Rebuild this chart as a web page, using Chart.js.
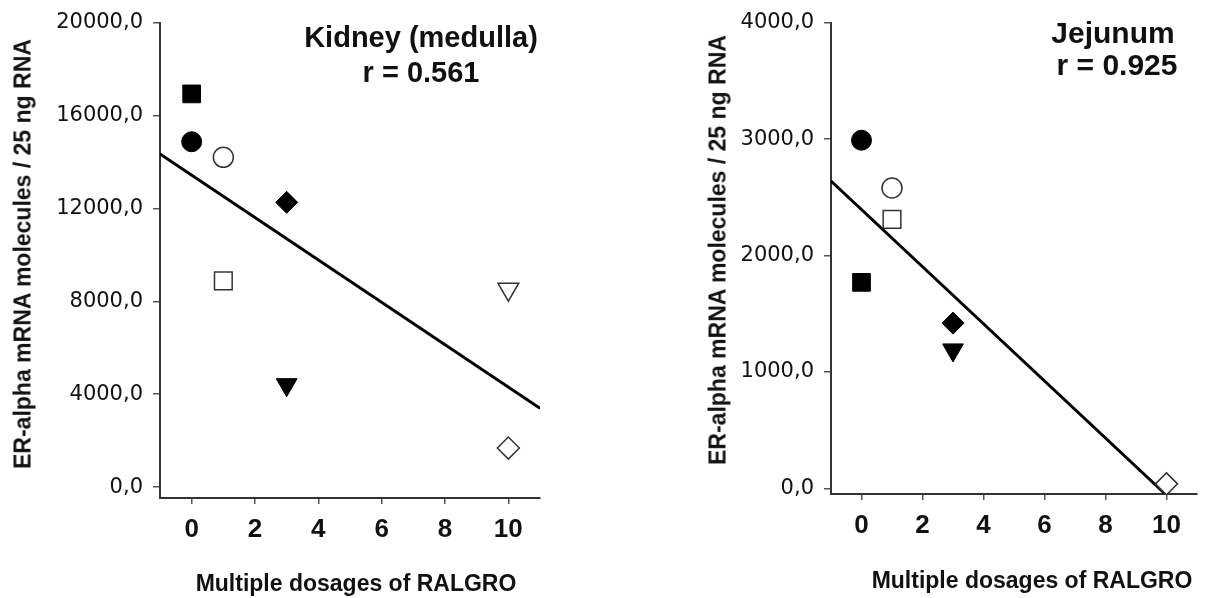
<!DOCTYPE html>
<html>
<head>
<meta charset="utf-8">
<script src="https://cdn.jsdelivr.net/npm/chart.js@4.4.0/dist/chart.umd.min.js"></script>
<style>
    html, body { margin: 0; padding: 0; background: #fff; }
    #stage { position: relative; width: 1211px; height: 598px; overflow: hidden;
             font-family: "Liberation Sans", Arial, sans-serif; color: #111; }
    .panel { position: absolute; top: 0; }
    .label { position: absolute; transform: translate(-50%, -50%); white-space: nowrap;
             font-weight: bold; line-height: 1; }
    .ylab { transform: translate(-50%, -50%) rotate(-90deg); font-size: 23px; }
    .xlab { font-size: 23px; }
</style>
</head>
<body>
<div id="stage">
    <canvas id="kidneyChart" class="panel" style="left:0" width="560" height="598"></canvas>
    <canvas id="jejunumChart" class="panel" style="left:690px" width="521" height="598"></canvas>

    <div class="label ylab" style="left:23px; top:254px">ER-alpha mRNA molecules / 25 ng RNA</div>
    <div class="label xlab" style="left:356px; top:583px">Multiple dosages of RALGRO</div>
    <div class="label" style="left:421px; top:37px; font-size:29px">Kidney (medulla)</div>
    <div class="label" style="left:421px; top:72px; font-size:29px">r = 0.561</div>

    <div class="label ylab" style="left:718px; top:250px">ER-alpha mRNA molecules / 25 ng RNA</div>
    <div class="label xlab" style="left:1032px; top:580px">Multiple dosages of RALGRO</div>
    <div class="label" style="left:1113px; top:33px; font-size:30px">Jejunum</div>
    <div class="label" style="left:1117px; top:65px; font-size:30px">r = 0.925</div>
</div>

<script>
// ─── Data ─────────────────────────────────────────────────────────────────────

const doseTicks = [0, 2, 4, 6, 8, 10];

const kidneyDose = [0, 0, 1, 3, 1, 10, 3, 10];
const kidneyMrna = [16930, 14870, 14200, 12260, 8880, 8520, 4410, 1680];
const kidneyMarkers = ['filledSquare', 'filledCircle', 'openCircle', 'filledDiamond',
                       'openSquare', 'openTriangle', 'filledTriangle', 'openDiamond'];
const kidneyTrendDose = [-1, 11];
const kidneyTrendMrna = [14340, 3390];
const kidneyYTicks = [0, 4000, 8000, 12000, 16000, 20000];

const jejunumDose = [0, 1, 1, 0, 3, 3, 10];
const jejunumMrna = [2990, 2580, 2310, 1770, 1420, 1190, 40];
const jejunumMarkers = ['filledCircle', 'openCircle', 'openSquare', 'filledSquare',
                        'filledDiamond', 'filledTriangle', 'openDiamond'];
const jejunumTrendDose = [-1, 9.96];
const jejunumTrendMrna = [2640, -47];
const jejunumYTicks = [0, 1000, 2000, 3000, 4000];

// ─── Styles ───────────────────────────────────────────────────────────────────

const ink = '#111';
const axisColor = '#333';

const markerStyle = {
    filledSquare:   { shape: 'rect',     radius: 12.5, fill: '#000', stroke: '#000', width: 1,   rot: 0 },
    openSquare:     { shape: 'rect',     radius: 12.5, fill: '#fff', stroke: '#333', width: 1.5, rot: 0 },
    filledCircle:   { shape: 'circle',   radius: 10,   fill: '#000', stroke: '#000', width: 1,   rot: 0 },
    openCircle:     { shape: 'circle',   radius: 10,   fill: '#fff', stroke: '#333', width: 1.5, rot: 0 },
    filledDiamond:  { shape: 'rectRot',  radius: 11,   fill: '#000', stroke: '#000', width: 1,   rot: 0 },
    openDiamond:    { shape: 'rectRot',  radius: 11,   fill: '#fff', stroke: '#333', width: 1.5, rot: 0 },
    filledTriangle: { shape: 'triangle', radius: 12,   fill: '#000', stroke: '#000', width: 1,   rot: 180 },
    openTriangle:   { shape: 'triangle', radius: 12,   fill: '#fff', stroke: '#333', width: 1.5, rot: 180 },
};

const yTickFont = { family: 'DejaVu Sans', size: 21 };
const xTickFont = { family: 'Liberation Sans', size: 26, weight: 'bold' };

// ─── Panel builder ────────────────────────────────────────────────────────────

function buildPanel(id, dose, mrna, markers, trendDose, trendMrna, yMin, yMax, yTicks, box) {
    const styles = markers.map(m => markerStyle[m]);

    return new Chart(document.getElementById(id), {
        type: 'scatter',
        data: {
            datasets: [
                {
                    data: dose.map((x, i) => ({ x, y: mrna[i] })),
                    pointStyle: styles.map(s => s.shape),
                    pointRadius: styles.map(s => s.radius),
                    pointHoverRadius: styles.map(s => s.radius),
                    pointBackgroundColor: styles.map(s => s.fill),
                    pointBorderColor: styles.map(s => s.stroke),
                    pointBorderWidth: styles.map(s => s.width),
                    pointRotation: styles.map(s => s.rot),
                    showLine: false,
                    order: 0,
                },
                {
                    data: trendDose.map((x, i) => ({ x, y: trendMrna[i] })),
                    showLine: true,
                    borderColor: '#000',
                    borderWidth: 3,
                    pointRadius: 0,
                    order: 1,
                },
            ],
        },
        options: {
            responsive: false,
            animation: false,
            events: [],
            layout: { padding: { left: 0, top: box.top, right: box.width - box.right, bottom: 0 } },
            plugins: {
                legend: { display: false },
                tooltip: { enabled: false },
            },
            scales: {
                x: {
                    type: 'linear',
                    min: -1,
                    max: 11,
                    afterBuildTicks: s => { s.ticks = doseTicks.map(v => ({ value: v })); },
                    afterFit: s => { s.height = box.height - box.bottom; },
                    border: { display: true, color: axisColor, width: 2 },
                    grid: { drawOnChartArea: false, drawTicks: true, tickLength: 6, color: '#555', lineWidth: 1.5 },
                    ticks: { font: xTickFont, color: ink, padding: 10, maxRotation: 0, autoSkip: false },
                },
                y: {
                    type: 'linear',
                    min: yMin,
                    max: yMax,
                    afterBuildTicks: s => { s.ticks = yTicks.map(v => ({ value: v })); },
                    afterFit: s => { s.width = box.left; },
                    border: { display: true, color: axisColor, width: 2 },
                    grid: { drawOnChartArea: false, drawTicks: true, tickLength: 7, color: '#555', lineWidth: 1.5 },
                    ticks: {
                        font: yTickFont,
                        color: ink,
                        padding: 10,
                        autoSkip: false,
                        callback: v => v.toFixed(1).replace('.', ','),
                    },
                },
            },
        },
    });
}

buildPanel('kidneyChart', kidneyDose, kidneyMrna, kidneyMarkers,
    kidneyTrendDose, kidneyTrendMrna, -470, 20000, kidneyYTicks,
    { left: 160, right: 540, top: 20, bottom: 498, width: 560, height: 598 });

buildPanel('jejunumChart', jejunumDose, jejunumMrna, jejunumMarkers,
    jejunumTrendDose, jejunumTrendMrna, -47, 4000, jejunumYTicks,
    { left: 141, right: 521, top: 20, bottom: 494, width: 521, height: 598 });
</script>
</body>
</html>
